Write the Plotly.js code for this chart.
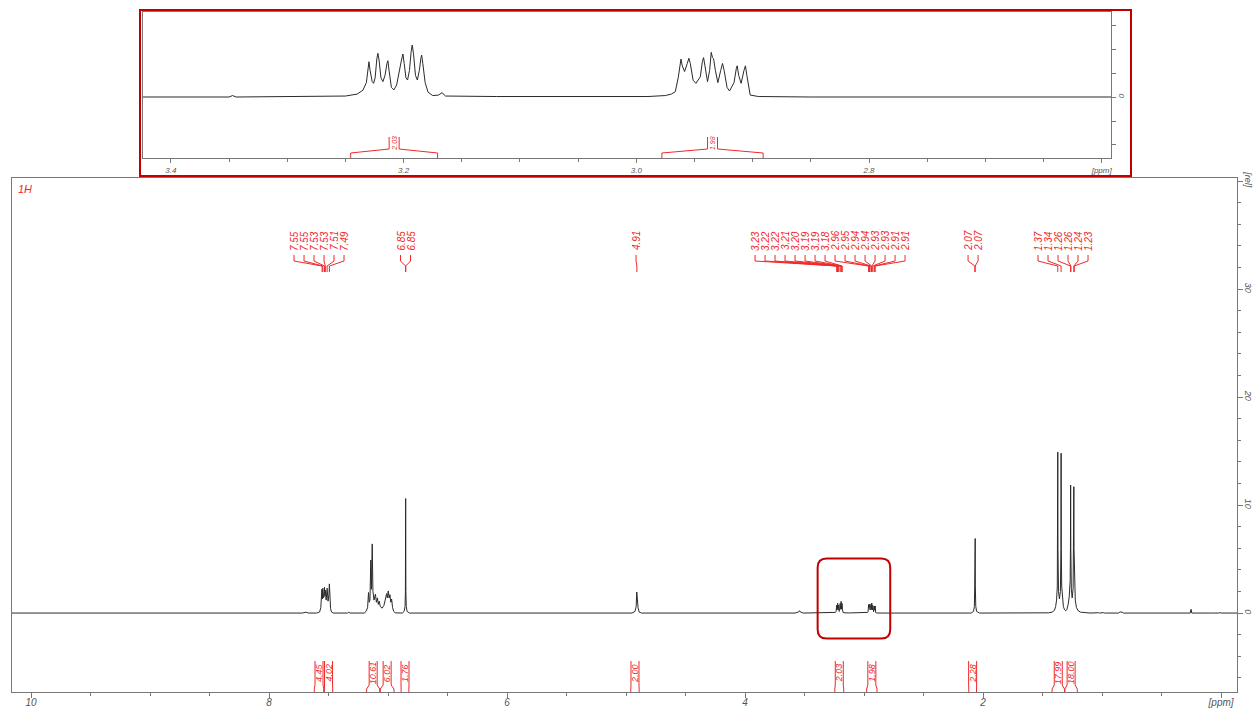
<!DOCTYPE html>
<html>
<head>
<meta charset="utf-8">
<script src="https://cdn.plot.ly/plotly-3.0.1.min.js"></script>
<style>body{margin:0;background:#fff}#chart{width:1254px;height:711px}</style>
</head>
<body>
<div id="chart"></div>
<script>
// ---------------- DATA ----------------
// 1H spectrum points: [ppm, relative intensity]
const spectrum = [
  [10.16,0],[7.72,0],[7.69,0.08],[7.67,0],
  [7.60,0],[7.575,0.1],[7.565,0.5],[7.559,1.6],[7.556,2.2],[7.552,1.3],[7.548,2.3],[7.543,1.4],[7.538,1.5],[7.534,2.4],[7.531,1.6],[7.527,2.1],[7.520,1.2],[7.512,2.3],[7.504,1.1],[7.497,1.7],[7.493,2.7],[7.489,1.2],[7.483,0.4],[7.475,0.1],[7.46,0],
  [7.34,0],[7.33,0.08],[7.32,0],
  [7.20,0],[7.185,0.15],[7.172,0.5],[7.164,1.9],[7.158,1.0],[7.152,1.2],[7.145,4.9],[7.140,2.2],[7.133,6.4],[7.127,2.0],[7.118,1.2],[7.106,1.75],[7.098,1.0],[7.089,1.4],[7.082,0.8],[7.074,1.1],[7.065,0.6],[7.050,0.45],[7.035,0.7],[7.024,1.2],[7.012,1.8],[7.006,1.4],[6.998,2.05],[6.991,1.4],[6.984,1.7],[6.977,1.0],[6.970,1.3],[6.962,0.5],[6.952,0.15],[6.94,0.02],
  [6.88,0],[6.865,0.15],[6.857,0.6],[6.854,2.0],[6.852,10.6],[6.850,2.0],[6.847,0.6],[6.840,0.15],[6.82,0],
  [4.95,0],[4.925,0.15],[4.915,0.6],[4.910,1.95],[4.907,1.4],[4.904,1.8],[4.899,0.5],[4.89,0.1],[4.87,0],
  [3.58,0],[3.55,0.1],[3.542,0.22],[3.535,0.1],[3.51,0],
  [3.35,0],[3.347,0.03],[3.344,0],
  [3.25,0.02],[3.240,0.06],[3.235,0.14],[3.232,0.30],[3.2305,0.60],[3.2298,0.735],[3.2288,0.55],[3.2270,0.32],[3.2258,0.285],[3.2245,0.40],[3.2230,0.80],[3.2221,0.91],[3.2210,0.75],[3.2195,0.40],[3.2178,0.32],[3.2160,0.45],[3.2143,0.70],[3.2135,0.756],[3.2125,0.55],[3.2105,0.20],[3.2084,0.146],[3.2060,0.25],[3.2020,0.75],[3.2006,0.896],[3.1995,0.70],[3.1980,0.40],[3.1966,0.354],[3.1950,0.55],[3.1935,0.95],[3.1926,1.083],[3.1915,0.90],[3.1898,0.45],[3.1882,0.354],[3.1865,0.55],[3.1852,0.80],[3.1845,0.875],[3.1835,0.70],[3.1815,0.30],[3.1790,0.10],[3.1750,0.03],[3.1700,0.04],[3.1670,0.09],[3.1640,0.02],[3.12,0.01],
  [2.99,0.01],[2.975,0.03],[2.970,0.06],[2.9665,0.11],[2.9640,0.40],[2.9626,0.70],[2.9616,0.79],[2.9605,0.65],[2.9585,0.53],[2.9562,0.70],[2.9548,0.806],[2.9536,0.70],[2.9512,0.35],[2.9488,0.285],[2.9450,0.42],[2.9432,0.74],[2.9422,0.82],[2.9410,0.65],[2.9388,0.32],[2.9370,0.55],[2.9356,0.93],[2.9345,0.82],[2.9336,0.80],[2.9320,0.55],[2.9299,0.30],[2.9275,0.55],[2.9259,0.70],[2.9245,0.55],[2.9220,0.20],[2.9199,0.125],[2.9160,0.30],[2.9140,0.60],[2.9133,0.65],[2.9120,0.45],[2.9099,0.285],[2.9075,0.55],[2.9062,0.65],[2.9050,0.45],[2.9021,0.04],[2.895,0.01],[2.85,0],
  [2.10,0],[2.08,0.15],[2.073,0.6],[2.070,2.5],[2.069,6.6],[2.0675,3.0],[2.066,6.9],[2.065,2.5],[2.061,0.6],[2.054,0.15],[2.03,0],
  [1.52,0],[1.50,0.05],[1.49,0],[1.46,0.03],
  [1.45,0.02],[1.42,0.08],[1.40,0.25],[1.39,0.6],[1.382,1.2],[1.376,2.5],[1.3735,6],[1.372,14.9],[1.3705,6],[1.366,2.0],[1.358,1.3],[1.350,2.0],[1.3455,6],[1.344,14.8],[1.3425,6],[1.339,2.5],[1.333,1.3],[1.325,0.6],[1.315,0.3],[1.305,0.2],[1.295,0.35],[1.285,0.8],[1.276,1.5],[1.268,3],[1.2655,6],[1.264,11.85],[1.2625,6],[1.258,2.2],[1.251,1.4],[1.243,2.3],[1.2385,6],[1.237,11.7],[1.2355,6],[1.232,2.5],[1.225,1.2],[1.215,0.5],[1.20,0.2],[1.18,0.08],[1.15,0.03],
  [1.10,0],[1.03,0.03],[1.02,0],[0.99,0.04],[0.98,0],
  [0.86,0],[0.848,0.12],[0.840,0.07],[0.832,0.1],[0.82,0],
  [0.26,0],[0.252,0.35],[0.246,0],[0.10,0],[0.09,0.03],[0.08,0],[0.02,0],[0.01,0.04],[0.0,0],[-0.134,0]
];

// Peak-picking groups (ppm of labelled lines)
const peakGroups = [
  [7.554, 7.548, 7.534, 7.527, 7.512, 7.493],
  [6.853, 6.851],
  [4.909],
  [3.230, 3.223, 3.220, 3.213, 3.201, 3.193, 3.187, 3.184, 2.962, 2.954, 2.942, 2.936, 2.934, 2.926, 2.913, 2.906],
  [2.069, 2.066],
  [1.372, 1.344, 1.264, 1.262, 1.237, 1.234]
];

// Integration regions and values
const integralFrom = [7.62, 7.535, 7.18, 7.065, 6.89, 4.96, 3.2455, 2.978, 2.12, 1.42, 1.312];
const integralTo   = [7.54, 7.465, 7.07, 6.95, 6.825, 4.89, 3.1708, 2.891, 2.055, 1.316, 1.208];
const integralValues = ["4.45", "4.02", "10.61", "6.02", "1.76", "2.00", "2.03", "1.98", "2.28", "17.99", "18.00"];
const insetIntegrals = [6, 7];

// Axis ticks
const xTickVals = [10, 8, 6, 4, 2, 0];
const xTickText = ["10", "8", "6", "4", "2", "[ppm]"];
const yTickVals = [0, 10, 20, 30, 40];
const yTickText = ["0", "10", "20", "30", "[rel]"];
const x2TickVals = [3.4, 3.2, 3.0, 2.8, 2.6];
const x2TickText = ["3.4", "3.2", "3.0", "2.8", "[ppm]"];
const y2TickVals = [-1, -0.5, 0, 0.5, 1, 1.5];
const y2TickText = ["", "", "0", "", "", ""];

// ---------------- LAYOUT HELPERS ----------------
const FONT = "Liberation Sans, Arial, sans-serif";
const RED = "#f02828";
const DARKRED = "#c00000";
const py = p => (692 - p) / 682;           // pixel row -> paper y
const PX_PER_PPM = 119;
const labelStart = [7.790, 6.895, 4.916, 3.916, 2.126, 1.538];
const labelStep = 10 / PX_PER_PPM;

const specX = spectrum.map(d => d[0]);
const specY = spectrum.map(d => d[1]);

const traces = [
  {type: 'scatter', mode: 'lines', x: specX, y: specY, xaxis: 'x', yaxis: 'y',
   line: {color: '#2a2a2a', width: 1}, hoverinfo: 'skip', showlegend: false},
  {type: 'scatter', mode: 'lines', x: specX, y: specY, xaxis: 'x2', yaxis: 'y2',
   line: {color: '#2a2a2a', width: 1}, hoverinfo: 'skip', showlegend: false}
];

const shapes = [];
const annotations = [];

// peak labels with connectors
peakGroups.forEach((grp, g) => {
  grp.forEach((pk, i) => {
    const lx = labelStart[g] - i * labelStep;
    annotations.push({xref: 'x', yref: 'paper', x: lx, y: py(241), text: pk.toFixed(2),
      showarrow: false, textangle: -90, xanchor: 'center', yanchor: 'middle',
      font: {family: FONT, size: 10, color: RED, style: 'italic'}});
    shapes.push({type: 'path', xref: 'x', yref: 'paper',
      path: `M ${lx},${py(255)} L ${lx},${py(261)} L ${pk},${py(266)} L ${pk},${py(272)}`,
      line: {color: RED, width: 1}});
  });
});

// integrals in main spectrum
const hw = 4 / PX_PER_PPM;
integralValues.forEach((v, k) => {
  const f = integralFrom[k], t = integralTo[k], c = (f + t) / 2;
  shapes.push({type: 'path', xref: 'x', yref: 'paper',
    path: `M ${c + hw},${py(661)} L ${c + hw},${py(685)} L ${f},${py(689)} L ${f},${py(692)} M ${c - hw},${py(661)} L ${c - hw},${py(685)} L ${t},${py(689)} L ${t},${py(692)}`,
    line: {color: RED, width: 1}});
  annotations.push({xref: 'x', yref: 'paper', x: c, y: py(673), text: v,
    showarrow: false, textangle: -90, xanchor: 'center', yanchor: 'middle',
    font: {family: FONT, size: 9, color: RED, style: 'italic'}});
});

// integrals in inset
const hw2 = 5 / 1165;
insetIntegrals.forEach(k => {
  const f = integralFrom[k], t = integralTo[k], c = (f + t) / 2;
  shapes.push({type: 'path', xref: 'x2', yref: 'paper',
    path: `M ${f},${py(158)} L ${f},${py(153)} L ${c + hw2},${py(149)} L ${c + hw2},${py(137)} M ${t},${py(158)} L ${t},${py(153)} L ${c - hw2},${py(149)} L ${c - hw2},${py(137)}`,
    line: {color: RED, width: 1}});
  annotations.push({xref: 'x2', yref: 'paper', x: c, y: py(143.5), text: integralValues[k],
    showarrow: false, textangle: -90, xanchor: 'center', yanchor: 'middle',
    font: {family: FONT, size: 7, color: RED, style: 'italic'}});
});

// red frame around the inset
shapes.push({type: 'rect', xref: 'paper', yref: 'paper',
  x0: (140 - 12) / 1225, x1: (1131 - 12) / 1225, y0: py(176), y1: py(10),
  line: {color: DARKRED, width: 2}, fillcolor: 'rgba(0,0,0,0)'});

// rounded highlight box in main spectrum (data coordinates)
const bx0 = 3.39, bx1 = 2.78, by0 = -2.35, by1 = 5.05;
const rx = 9 / PX_PER_PPM, ry = 9 / 10.8;
shapes.push({type: 'path', xref: 'x', yref: 'y',
  path: `M ${bx0 - rx},${by1} L ${bx1 + rx},${by1} Q ${bx1},${by1} ${bx1},${by1 - ry} L ${bx1},${by0 + ry} Q ${bx1},${by0} ${bx1 + rx},${by0} L ${bx0 - rx},${by0} Q ${bx0},${by0} ${bx0},${by0 + ry} L ${bx0},${by1 - ry} Q ${bx0},${by1} ${bx0 - rx},${by1} Z`,
  line: {color: DARKRED, width: 2}});

// "1H" tag
annotations.push({xref: 'paper', yref: 'paper', x: 0.003, y: py(189), text: '1H',
  showarrow: false, xanchor: 'left', yanchor: 'middle',
  font: {family: FONT, size: 11, color: RED, style: 'italic'}});

const tickFont = {family: FONT, size: 10, color: '#555', style: 'italic'};
const smallFont = {family: FONT, size: 8, color: '#555', style: 'italic'};
const AX = '#777';

const layout = {
  width: 1254, height: 711,
  margin: {l: 12, r: 17, t: 10, b: 19, pad: 0},
  paper_bgcolor: '#fff', plot_bgcolor: 'rgba(0,0,0,0)',
  showlegend: false,
  xaxis: {domain: [0, 1], range: [10.16, -0.134], anchor: 'y',
    showline: true, mirror: true, linecolor: AX, linewidth: 1,
    ticks: 'outside', ticklen: 5, tickcolor: AX, tickmode: 'array',
    tickvals: xTickVals, ticktext: xTickText, tickfont: tickFont, ticklabelstandoff: -4,
    minor: {tickmode: 'linear', tick0: 0, dtick: 0.5, ticks: 'outside', ticklen: 3, tickcolor: AX},
    showgrid: false, zeroline: false},
  yaxis: {domain: [0, (692 - 178) / 682], range: [-7.31, 40.28], anchor: 'x', side: 'right',
    showline: true, mirror: true, linecolor: AX, linewidth: 1,
    ticks: 'outside', ticklen: 5, tickcolor: AX, tickmode: 'array',
    tickvals: yTickVals, ticktext: yTickText, tickangle: 90, ticklabelstandoff: -2,
    tickfont: {family: FONT, size: 9, color: '#555', style: 'italic'},
    minor: {tickmode: 'linear', tick0: 0, dtick: 2, ticks: 'outside', ticklen: 3, tickcolor: AX},
    showgrid: false, zeroline: false},
  xaxis2: {domain: [(143 - 12) / 1225, (1111 - 12) / 1225], range: [3.424, 2.592], anchor: 'y2',
    showline: true, mirror: true, linecolor: AX, linewidth: 1,
    ticks: 'outside', ticklen: 4, tickcolor: AX, tickmode: 'array',
    tickvals: x2TickVals, ticktext: x2TickText, tickfont: smallFont,
    minor: {tickmode: 'linear', tick0: 0, dtick: 0.05, ticks: 'outside', ticklen: 3, tickcolor: AX},
    showgrid: false, zeroline: false},
  yaxis2: {domain: [py(158), py(12)], range: [-1.271, 1.771], anchor: 'x2', side: 'right',
    showline: true, mirror: true, linecolor: AX, linewidth: 1,
    ticks: 'outside', ticklen: 4, tickcolor: AX, tickmode: 'array',
    tickvals: y2TickVals, ticktext: y2TickText, tickangle: 90, tickfont: smallFont,
    showgrid: false, zeroline: false},
  shapes: shapes,
  annotations: annotations
};

Plotly.newPlot('chart', traces, layout, {staticPlot: true, displayModeBar: false});
</script>
</body>
</html>
